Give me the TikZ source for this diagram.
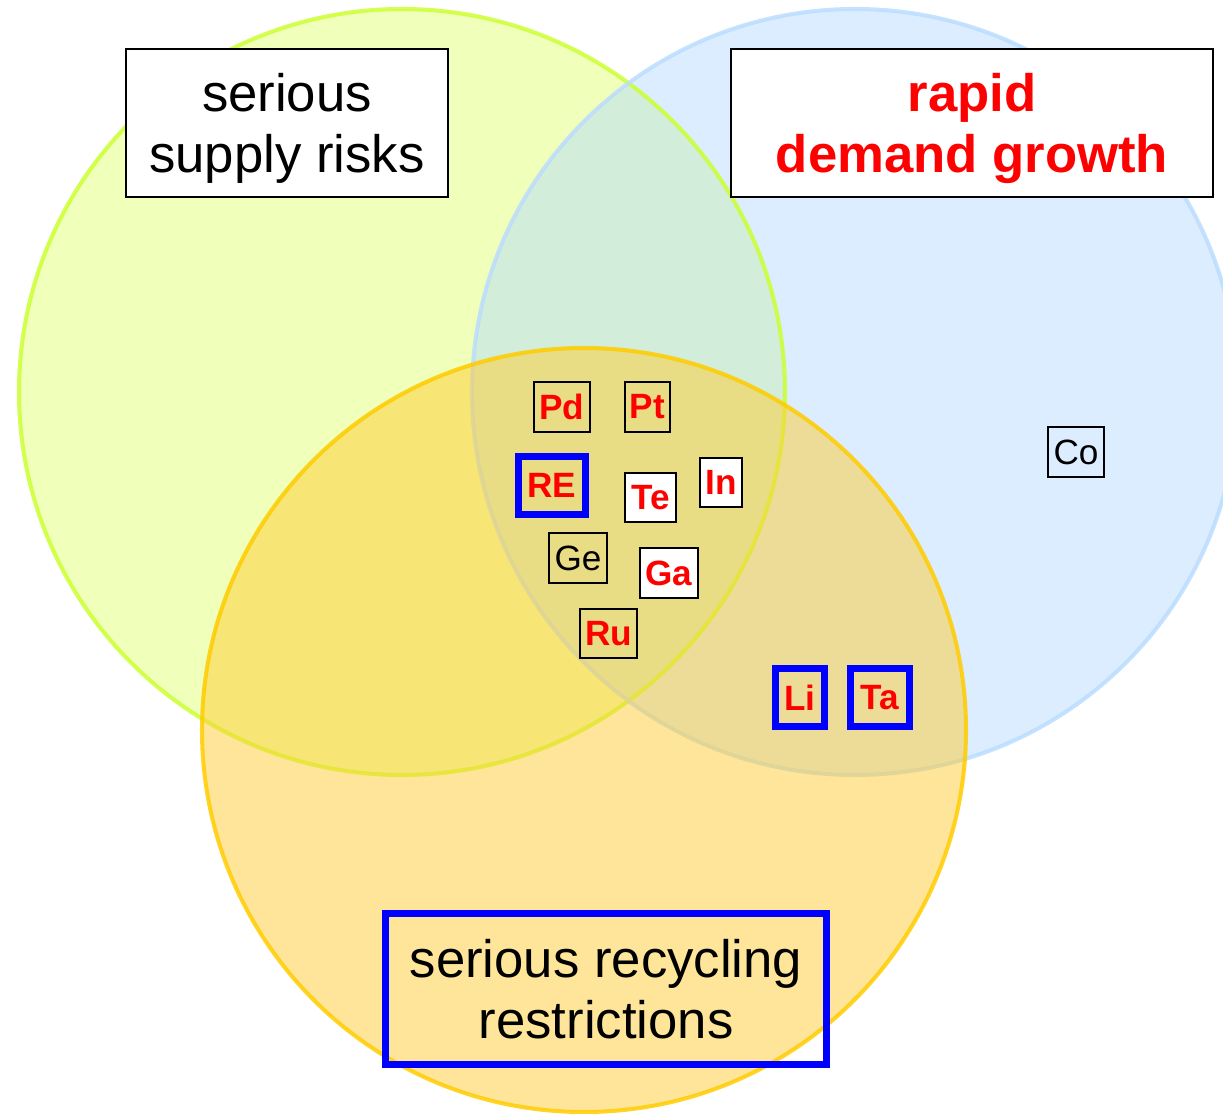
\documentclass[tikz,border=0pt]{standalone}
\usepackage{fontspec}
\setmainfont{Liberation Sans}
\usepackage{xcolor}
\usepackage{tikz}
\definecolor{supplyline}{HTML}{CCFF33}
\definecolor{supplyfill}{HTML}{DDFF66}
\definecolor{demandline}{HTML}{BBDDFF}
\definecolor{demandfill}{HTML}{B0D8FF}
\definecolor{recycleline}{HTML}{FFCC00}
\definecolor{recyclefill}{HTML}{FFCC33}
\definecolor{hot}{HTML}{FF0000}
\definecolor{frame}{HTML}{0000FF}
\tikzset{
  ring/.style={line width=2.3pt, draw opacity=0.85},
  title/.style={draw=black, line width=1.4pt, inner sep=0pt, align=center,
    text depth=0pt, font=\fontsize{30}{35}\selectfont},
  elem/.style={draw=black, line width=1.1pt, inner sep=0pt,
    minimum height=0.98cm, font=\fontsize{20}{24}\selectfont\bfseries, text=hot},
  plainelem/.style={font=\fontsize{20}{24}\selectfont, text=black},
  blank/.style={fill=white},
  bluebox/.style={draw=frame, line width=4pt}
}

\begin{document}
\begin{tikzpicture}[x=0.02cm, y=-0.02cm]
\clip (0,0) rectangle (1223,1114);
% circles
\fill[supplyfill, fill opacity=0.45] (402,392) circle[radius=383];
\fill[demandfill, fill opacity=0.45] (855,392) circle[radius=383];
\draw[ring, supplyline] (402,392) circle[radius=383];
\draw[ring, demandline] (855,392) circle[radius=383];
\fill[recyclefill, fill opacity=0.5] (584,730) circle[radius=382];
\draw[ring, recycleline] (584,730) circle[radius=382];

% headings
\node[title, blank, minimum width=6.44cm, minimum height=2.96cm] (supply) at (287,123)
  {serious\\supply risks};
\node[title, blank, text=hot, font=\fontsize{30}{35}\selectfont\bfseries,
  minimum width=9.64cm, minimum height=2.96cm] (demand) at (972,123)
  {rapid\\demand growth};
\node[title, bluebox, minimum width=8.82cm, minimum height=3.02cm] (recycle) at (606,989)
  {serious recycling\\restrictions};

% elements
\node[elem, minimum width=1.12cm, minimum height=1cm] (pd) at (562,407) {Pd};
\node[elem, minimum width=0.9cm, minimum height=1cm] (pt) at (647.5,407) {Pt};
\node[elem, bluebox, minimum width=1.34cm, minimum height=1.16cm] (re) at (552,485.5) {RE};
\node[elem, blank, minimum width=1.02cm] (te) at (650.5,497.5) {Te};
\node[elem, blank, minimum width=0.84cm] (in) at (721,482.5) {In};
\node[elem, plainelem, minimum width=1.16cm, minimum height=1cm] (ge) at (578,558) {Ge};
\node[elem, blank, minimum width=1.16cm, minimum height=1cm] (ga) at (669,573) {Ga};
\node[elem, minimum width=1.14cm] (ru) at (608.5,633.5) {Ru};
\node[elem, plainelem, minimum width=1.12cm, minimum height=1cm] (co) at (1076,452) {Co};
\node[elem, bluebox, minimum width=0.98cm, minimum height=1.16cm] (li) at (800,697.5) {Li};
\node[elem, bluebox, minimum width=1.18cm, minimum height=1.16cm] (ta) at (880,697.5) {Ta};
\end{tikzpicture}
\end{document}
